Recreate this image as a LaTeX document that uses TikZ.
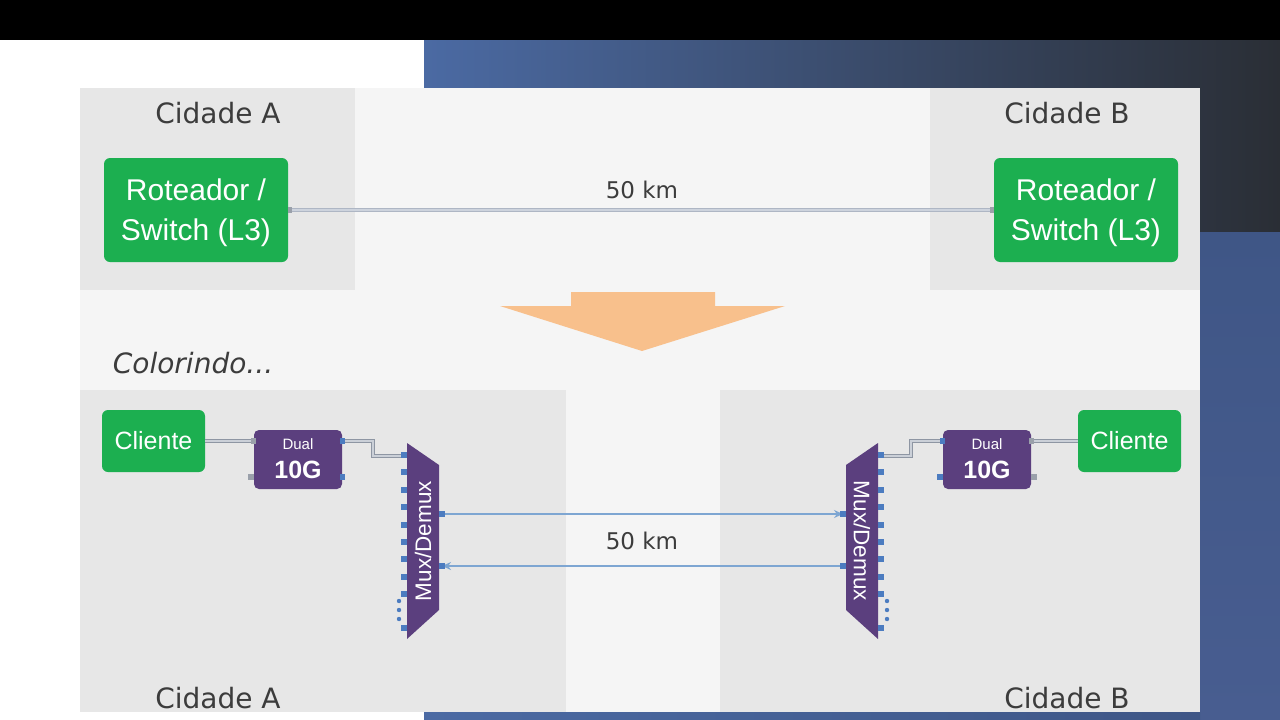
\documentclass[tikz,border=0pt]{standalone}
\usepackage{fontspec}
\setmainfont{Liberation Sans}
\newfontfamily\labelfont{DejaVu Sans}
\usetikzlibrary{calc, positioning, arrows.meta}

\tikzset{
  city/.style={font=\labelfont\fontsize{28}{32}\selectfont, text=cityText, inner sep=0pt},
  kmlabel/.style={font=\labelfont\fontsize{23}{28}\selectfont, text=cityText, inner sep=0pt},
  greenbox/.style={fill=boxGreen, text=white, rounded corners=6pt, align=center, inner sep=0pt},
  dualbox/.style={fill=muxPurple, rounded corners=5pt, inner sep=0pt,
    minimum width=88pt, minimum height=59pt},
  dualsmall/.style={text=white, inner sep=0pt, font=\fontsize{15}{17}\selectfont},
  dualbig/.style={text=white, inner sep=0pt, font=\fontsize{25}{28}\selectfont\bfseries},
  muxlabel/.style={text=white, font=\fontsize{22.5}{26}\selectfont, inner sep=0pt},
  link/.style={draw=linkGray, line width=0.9pt, double=linkLight, double distance=1.4pt},
  cable/.style={draw=cableGray, line width=1pt, double=cableLight, double distance=1.4pt},
  fiber/.style={draw=fiberBlue, line width=2.6pt, -{Stealth[length=9pt, width=8pt]}},
}

\begin{document}
\begin{tikzpicture}[x=1pt, y=-1pt]
    % Define colours
    \definecolor{slideBg}{HTML}{F5F5F5}
    \definecolor{panelGray}{HTML}{E7E7E7}
    \definecolor{cityText}{HTML}{3C3C3C}
    \definecolor{boxGreen}{HTML}{1CAF50}
    \definecolor{muxPurple}{HTML}{5B3F7E}
    \definecolor{portBlue}{HTML}{4C7CC0}
    \definecolor{portGray}{HTML}{9AA0AA}
    \definecolor{fiberBlue}{HTML}{7EA6D2}
    \definecolor{linkGray}{HTML}{AEB6C4}
    \definecolor{linkLight}{HTML}{CDD3DD}
    \definecolor{cableGray}{HTML}{8E96A3}
    \definecolor{cableLight}{HTML}{CBD0D8}
    \definecolor{arrowOrange}{HTML}{F8C08C}
    \definecolor{deskBlueA}{HTML}{4B6AA3}
    \definecolor{deskBlueB}{HTML}{2A3D66}
    \definecolor{deskDark}{HTML}{2A2E35}
    \definecolor{deskBlueC}{HTML}{3F5686}
    \definecolor{deskBlueD}{HTML}{485D90}

    \useasboundingbox (0,0) rectangle (1280,720);

    % Draw screen background
    \fill[black] (0,0) rectangle (1280,40);
    \fill[white] (0,40) rectangle (424,720);
    \shade[left color=deskBlueA, middle color=deskBlueB, right color=deskDark] (424,40) rectangle (1280,232);
    \shade[top color=deskBlueC, bottom color=deskBlueD] (1200,232) rectangle (1280,720);
    \shade[left color=deskBlueA, right color=deskBlueC] (424,712) rectangle (1200,720);

    % Draw slide and city panels
    \fill[slideBg] (80,88) rectangle (1200,712);
    \fill[panelGray] (80,88) rectangle (355,290);
    \fill[panelGray] (930,88) rectangle (1200,290);
    \fill[panelGray] (80,390) rectangle (566,712);
    \fill[panelGray] (720,390) rectangle (1200,712);

    % Top: routers linked directly
    \node[city] (cidA) at (218,113) {Cidade A};
    \node[city] (cidB) at (1067,113) {Cidade B};
    \node[greenbox, minimum width=184pt, minimum height=104pt, text depth=0pt,
        font=\fontsize{30}{40}\selectfont] (rtA) at (196,210) {Roteador /\\Switch (L3)};
    \node[greenbox, minimum width=184pt, minimum height=104pt, text depth=0pt,
        font=\fontsize{30}{40}\selectfont] (rtB) at (1086,210) {Roteador /\\Switch (L3)};
    \draw[link] (rtA.east) -- (rtB.west);
    \fill[portGray] ($(rtA.east)+(0,-3)$) rectangle ++(4,6);
    \fill[portGray] ($(rtB.west)+(-4,-3)$) rectangle ++(4,6);
    \node[kmlabel] (kmTop) at (642,190) {50 km};

    % Orange arrow
    \fill[arrowOrange] (571,292) -- (715,292) -- (715,306) -- (785,306) -- (642,351)
        -- (500,306) -- (571,306) -- cycle;

    \node[font=\labelfont\itshape\fontsize{28}{32}\selectfont, text=cityText, inner sep=0pt]
        (colorindo) at (193,363) {Colorindo...};

    % Bottom: clients and transponders
    \node[greenbox, minimum width=103pt, minimum height=62pt, font=\fontsize{25}{30}\selectfont]
        (cliA) at (153.5,441) {Cliente};
    \node[greenbox, minimum width=103pt, minimum height=62pt, font=\fontsize{25}{30}\selectfont]
        (cliB) at (1129.5,441) {Cliente};
    \node[dualbox] (dualA) at (298,459.5) {};
    \node[dualsmall] (dualAtop) at ($(dualA)+(0,-15)$) {Dual};
    \node[dualbig] (dualAbot) at ($(dualA)+(0,10.5)$) {10G};
    \node[dualbox] (dualB) at (987,459.5) {};
    \node[dualsmall] (dualBtop) at ($(dualB)+(0,-15)$) {Dual};
    \node[dualbig] (dualBbot) at ($(dualB)+(0,10.5)$) {10G};

    % Mux/Demux A
    \coordinate (muxA) at (423,541);
    \fill[muxPurple] (407,443) -- (439,465) -- (439,610) -- (407,639) -- cycle;
    \node[muxlabel, rotate=90] (muxAtext) at (muxA) {Mux/Demux};

    % Mux/Demux B
    \coordinate (muxB) at (862,541);
    \fill[muxPurple] (878,443) -- (846,465) -- (846,610) -- (878,639) -- cycle;
    \node[muxlabel, rotate=-90] (muxBtext) at (muxB) {Mux/Demux};

    % Port coordinates
    \coordinate (dualAin) at (254,441);
    \coordinate (dualAout) at (342,441);
    \coordinate (muxAin) at (404,456);
    \coordinate (dualBin) at (943,441);
    \coordinate (dualBout) at (1031,441);
    \coordinate (muxBin) at (881,456);
    \coordinate (muxAtx) at (442,514);
    \coordinate (muxArx) at (442,566);
    \coordinate (muxBrx) at (843,514);
    \coordinate (muxBtx) at (843,566);

    % Draw short patch cables
    \draw[cable] (cliA.east) -- (dualAin);
    \draw[cable] (dualAout) -- ++(31,0) |- (muxAin);
    \draw[cable] (dualBout) -- (cliB.west);
    \draw[cable] (dualBin) -- ++(-32,0) |- (muxBin);

    % Draw the fibre pair
    \draw[fiber] (muxAtx) -- (muxBrx);
    \draw[fiber] (muxBtx) -- (muxArx);
    \node[kmlabel] (kmBot) at (642,541) {50 km};

    % Draw ports on the transponders
    \fill[portGray] (251,438) rectangle ++(5,6);
    \fill[portGray] (248,474) rectangle ++(6,6);
    \fill[portBlue] (340,438) rectangle ++(5,6);
    \fill[portBlue] (340,474) rectangle ++(5,6);
    \fill[portBlue] (940,438) rectangle ++(5,6);
    \fill[portBlue] (937,474) rectangle ++(6,6);
    \fill[portGray] (1029,438) rectangle ++(5,6);
    \fill[portGray] (1031,474) rectangle ++(6,6);

    % Draw ports on the mux/demux units
    \foreach \i in {0,...,8} {
        \fill[portBlue] (401,{452+17.4*\i}) rectangle ++(6,6);
        \fill[portBlue] (878,{452+17.4*\i}) rectangle ++(6,6);
    }
    \foreach \y in {601,610,619} {
        \fill[portBlue] (399,\y) circle (2.2);
        \fill[portBlue] (887,\y) circle (2.2);
    }
    \fill[portBlue] (401,625) rectangle ++(6,6);
    \fill[portBlue] (878,625) rectangle ++(6,6);
    \fill[portBlue] (439,511) rectangle ++(6,6);
    \fill[portBlue] (439,563) rectangle ++(6,6);
    \fill[portBlue] (840,511) rectangle ++(6,6);
    \fill[portBlue] (840,563) rectangle ++(6,6);

    % Bottom city labels
    \node[city] (cidAbot) at (218,698) {Cidade A};
    \node[city] (cidBbot) at (1067,698) {Cidade B};

\end{tikzpicture}
\end{document}
